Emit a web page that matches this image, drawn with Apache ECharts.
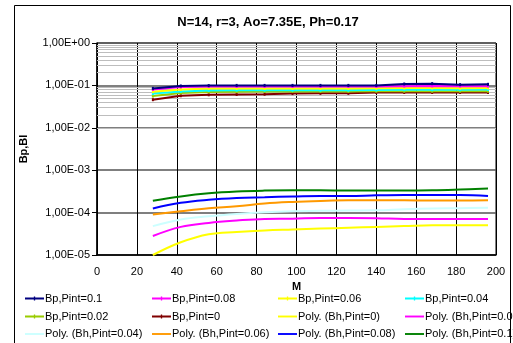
<!DOCTYPE html>
<html><head><meta charset="utf-8">
<script src="https://cdn.jsdelivr.net/npm/echarts@6/dist/echarts.min.js"></script>
<style>html,body{margin:0;padding:0;background:#fff}#c{width:513px;height:343px}</style>
</head><body><div id="c"></div>
<script>
var M = [28, 42, 56, 70, 84, 98, 112, 126, 140, 154, 168, 182, 196];
var bp01  = [0.085, 0.097, 0.099, 0.100, 0.100, 0.100, 0.100, 0.100, 0.100, 0.108, 0.110, 0.104, 0.106];
var bp008 = [0.080, 0.092, 0.094, 0.094, 0.094, 0.094, 0.094, 0.094, 0.094, 0.096, 0.097, 0.096, 0.096];
var bp006 = [0.071, 0.080, 0.085, 0.085, 0.085, 0.085, 0.085, 0.085, 0.086, 0.087, 0.087, 0.086, 0.087];
var bp004 = [0.064, 0.072, 0.076, 0.077, 0.077, 0.077, 0.077, 0.077, 0.078, 0.079, 0.079, 0.079, 0.080];
var bp002 = [0.056, 0.066, 0.070, 0.071, 0.072, 0.072, 0.072, 0.072, 0.073, 0.073, 0.073, 0.073, 0.073];
var bp0   = [0.046, 0.057, 0.060, 0.061, 0.062, 0.064, 0.065, 0.065, 0.068, 0.068, 0.068, 0.068, 0.068];
var bh0   = [1.0e-5, 2.0e-5, 3.1e-5, 3.5e-5, 3.8e-5, 4.0e-5, 4.2e-5, 4.4e-5, 4.6e-5, 4.8e-5, 5.0e-5, 5.05e-5, 5.05e-5];
var bh002 = [2.8e-5, 4.6e-5, 5.7e-5, 6.5e-5, 7.1e-5, 7.2e-5, 7.5e-5, 7.5e-5, 7.4e-5, 7.1e-5, 7.1e-5, 7.1e-5, 7.1e-5];
var bh004 = [4.8e-5, 6.9e-5, 8.2e-5, 9.3e-5, 1.02e-4, 1.08e-4, 1.1e-4, 1.12e-4, 1.13e-4, 1.2e-4, 1.25e-4, 1.27e-4, 1.3e-4];
var bh006 = [9.0e-5, 1.08e-4, 1.27e-4, 1.41e-4, 1.64e-4, 1.79e-4, 1.89e-4, 1.95e-4, 1.95e-4, 1.95e-4, 1.92e-4, 1.92e-4, 1.95e-4];
var bh008 = [1.25e-4, 1.7e-4, 2.0e-4, 2.2e-4, 2.3e-4, 2.4e-4, 2.45e-4, 2.45e-4, 2.55e-4, 2.6e-4, 2.6e-4, 2.6e-4, 2.45e-4];
var bh01  = [1.9e-4, 2.4e-4, 2.85e-4, 3.15e-4, 3.3e-4, 3.35e-4, 3.35e-4, 3.3e-4, 3.3e-4, 3.3e-4, 3.35e-4, 3.5e-4, 3.7e-4];
var yTicks = ['1,00E-05', '1,00E-04', '1,00E-03', '1,00E-02', '1,00E-01', '1,00E+00'];
var xTicks = [0, 20, 40, 60, 80, 100, 120, 140, 160, 180, 200];

var names = ['Bp,Pint=0.1','Bp,Pint=0.08','Bp,Pint=0.06','Bp,Pint=0.04','Bp,Pint=0.02','Bp,Pint=0',
  'Poly. (Bh,Pint=0)','Poly. (Bh,Pint=0.02)','Poly. (Bh,Pint=0.04)','Poly. (Bh,Pint=0.06)','Poly. (Bh,Pint=0.08)','Poly. (Bh,Pint=0.1)'];
var colors = ['#000080','#ff00ff','#ffff00','#00ffff','#99cc00','#800000',
  '#ffff00','#ff00ff','#ccffff','#ff9900','#0000ff','#008000'];
var datas = [bp01,bp008,bp006,bp004,bp002,bp0,bh0,bh002,bh004,bh006,bh008,bh01];

var minorVals = [];
for (var e = -5; e < 0; e++) for (var k = 2; k <= 9; k++) minorVals.push({yAxis: k * Math.pow(10, e)});

var series = [];
series.push({type:'line', name:'_grid', data:[], silent:true, z:1,
  markLine:{silent:true, symbol:['none','none'], label:{show:false},
    lineStyle:{color:'#bdbdbd', width:1.2, type:'solid'}, data:minorVals, animation:false}});
for (var i = 0; i < 12; i++) {
  var isBp = i < 6;
  series.push({
    type:'line', name:names[i], z: 5 + (isBp ? 12 - i : i),
    data: M.map(function(m, j){ return [m, datas[i][j]]; }),
    smooth: isBp ? false : 0.4,
    symbol: isBp ? 'rect' : 'none', symbolSize: isBp ? [2,3] : 0, showSymbol: isBp,
    lineStyle:{color:colors[i], width:2},
    itemStyle:{color:colors[i]},
    animation:false
  });
}

var colLefts = [20, 147, 273, 400];
var rowTops = [288, 306, 323.5];
var legends = [];
for (var r = 0; r < 3; r++) for (var c = 0; c < 4; c++) {
  var ix = r * 4 + c;
  legends.push({left:colLefts[c], top:rowTops[r], itemWidth:19, itemHeight:8, selectedMode:false,
    data:[{name:names[ix], icon: ix < 6 ? 'path://M0,3L20,3L20,5L0,5Z M9.3,2L10.7,2L10.7,6L9.3,6Z' : 'path://M0,3L20,3L20,5L0,5Z'}],
    itemStyle:{borderWidth:0},
    textStyle:{fontFamily:'Liberation Sans, Arial', fontSize:11, color:'#000', padding:[0,0,0,-4]}});
}

var chart = echarts.init(document.getElementById('c'), null, {renderer:'canvas'});
chart.setOption({
  backgroundColor:'#fff',
  animation:false,
  title:{text:'N=14, r=3, Ao=7.35E, Ph=0.17', left:263, textAlign:'center', top:11,
    textStyle:{fontFamily:'Liberation Sans, Arial', fontSize:13, fontWeight:'bold', color:'#000'}},
  grid:{left:97, right:17, top:43, bottom:88, show:true, borderColor:'#000', borderWidth:1},
  legend: legends,
  xAxis:{type:'value', min:0, max:200, interval:20, name:'M', nameLocation:'middle', nameGap:26,
    nameTextStyle:{fontFamily:'Liberation Sans, Arial', fontSize:11, fontWeight:'bold', color:'#000'},
    axisLine:{show:true, lineStyle:{color:'#000', width:1.5}}, axisTick:{show:false},
    axisLabel:{fontFamily:'Liberation Sans, Arial', fontSize:11, color:'#000', margin:11,
      formatter:function(v){ return xTicks.indexOf(v) >= 0 ? String(v) : ''; }},
    splitLine:{show:true, lineStyle:{color:'#000', width:1}}},
  yAxis:{type:'log', logBase:10, min:1e-5, max:1, interval:1, name:'Bp,Bl', nameLocation:'middle', nameGap:68,
    nameRotate:90,
    nameTextStyle:{fontFamily:'Liberation Sans, Arial', fontSize:11, fontWeight:'bold', color:'#000'},
    axisLine:{show:true, lineStyle:{color:'#000', width:1.5}}, axisTick:{show:true, length:5, lineStyle:{color:'#000'}},
    axisLabel:{fontFamily:'Liberation Sans, Arial', fontSize:11, color:'#000', margin:7,
      formatter:function(v){ var e = Math.round(Math.log10(v)); return yTicks[e + 5]; }},
    splitLine:{show:true, lineStyle:{color:'#555', width:1.5}}},
  graphic:[{type:'rect', shape:{x:14.5, y:5.5, width:496, height:340}, style:{fill:null, stroke:'#000', lineWidth:1}, z:100, silent:true}],
  series: series
});
</script></body></html>
